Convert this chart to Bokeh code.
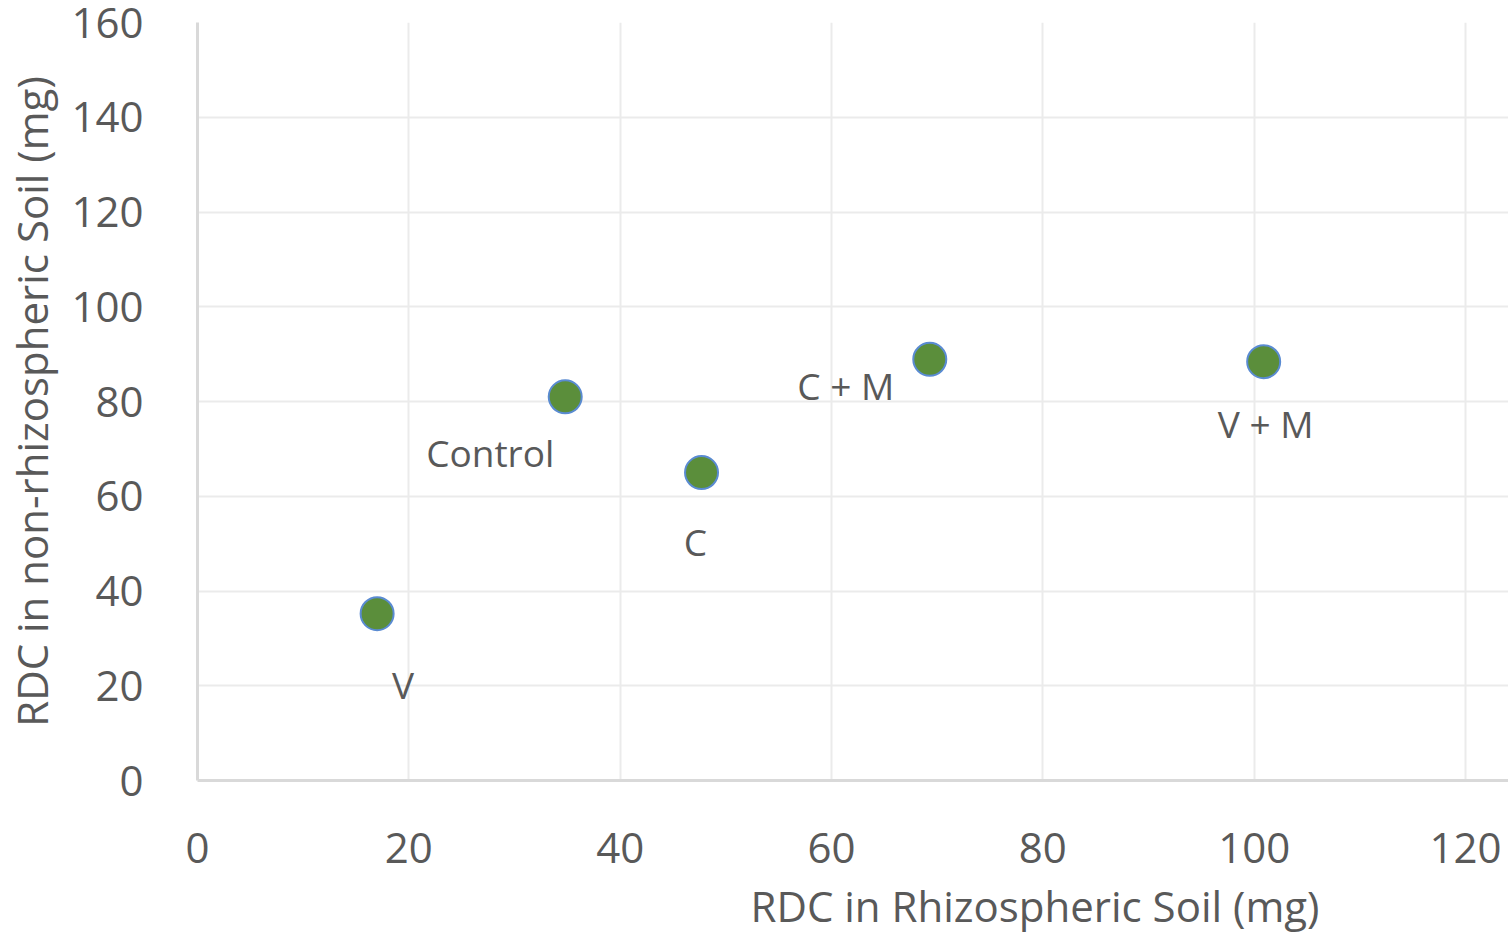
from bokeh.plotting import figure
from bokeh.models import ColumnDataSource, Range1d, FixedTicker, Title
from bokeh.core.properties import value
from bokeh.embed import file_html
from bokeh.resources import INLINE

# data
treatments = ["V", "Control", "C", "C + M", "V + M"]
rhizo = [17.0, 34.8, 47.7, 69.3, 100.9]
non_rhizo = [35.2, 81.0, 65.0, 88.9, 88.4]
x_ticks = [0, 20, 40, 60, 80, 100, 120]
y_ticks = [0, 20, 40, 60, 80, 100, 120, 140, 160]

# label offsets (pixels)
lab_dx = [26, -75, -6, -84, 2]
lab_dy = [71, 56, 69, 26, 62]

FONT = "Open Sans"
TXT = "#595959"

src = ColumnDataSource(dict(x=rhizo, y=non_rhizo, t=treatments, dx=lab_dx, dy=lab_dy))

p = figure(width=1508, height=942, output_backend="svg", toolbar_location=None,
           x_range=Range1d(0, 124.07), y_range=Range1d(0, 160),
           min_border_left=197, min_border_right=0, min_border_top=22, min_border_bottom=162)
p.outline_line_color = None

p.scatter("x", "y", source=src, size=33, fill_color="#5B8E3B", line_color="#5A8BD2", line_width=2)
p.text("x", "y", text="t", source=src, x_offset="dx", y_offset="dy",
       text_align="center", text_baseline="middle", text_font=value(FONT),
       text_font_size="37px", text_color=TXT)

for ax in (p.xaxis, p.yaxis):
    ax.major_tick_line_color = None
    ax.minor_tick_line_color = None
    ax.axis_line_color = "#D9D9D9"
    ax.axis_line_width = 3
    ax.major_label_text_font = FONT
    ax.major_label_text_font_size = "42px"
    ax.major_label_text_color = TXT

p.xaxis.ticker = FixedTicker(ticks=x_ticks)
p.yaxis.ticker = FixedTicker(ticks=y_ticks)
p.xaxis.major_label_standoff = 46
p.yaxis.major_label_standoff = 48

p.yaxis.axis_label = "RDC in non-rhizospheric Soil (mg)"
p.yaxis.axis_label_text_font = FONT
p.yaxis.axis_label_text_font_size = "42px"
p.yaxis.axis_label_text_font_style = "normal"
p.yaxis.axis_label_text_color = TXT
p.yaxis.axis_label_standoff = 8

xt = Title(text="RDC in Rhizospheric Soil (mg)", align="left", offset=553,
           text_font=FONT, text_font_size="42px", text_font_style="normal",
           text_color=TXT, standoff=18)
p.add_layout(xt, "below")

p.xgrid.grid_line_color = "#EBEBEB"
p.ygrid.grid_line_color = "#EBEBEB"
p.xgrid.grid_line_width = 2
p.ygrid.grid_line_width = 2

open("out.html", "w").write(file_html(p, INLINE))
